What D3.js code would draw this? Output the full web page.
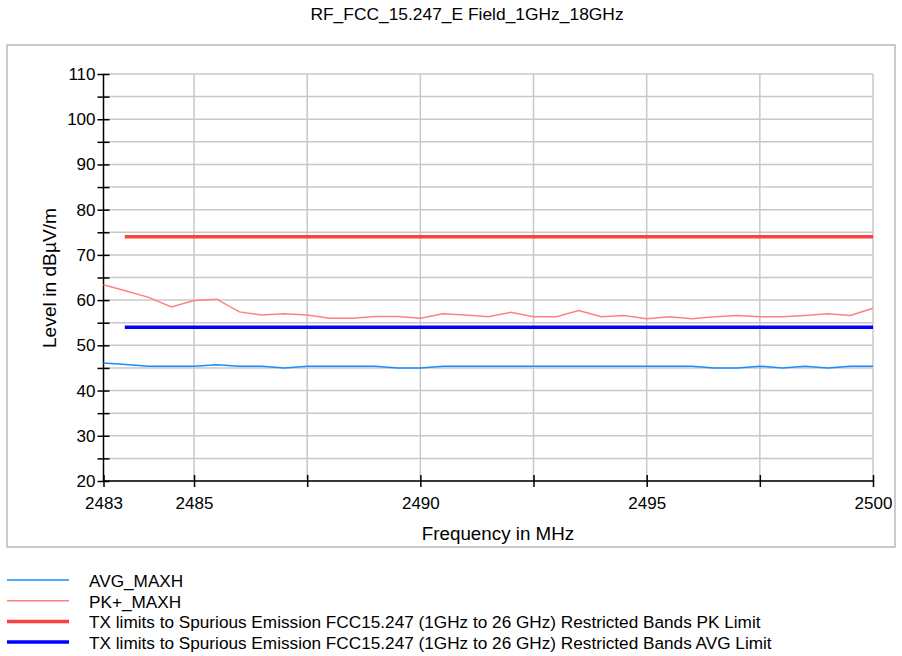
<!DOCTYPE html>
<html><head><meta charset="utf-8">
<script src="https://cdn.jsdelivr.net/npm/d3@7"></script>
<style>body{margin:0;background:#fff}svg{display:block}text{font-family:"Liberation Sans",Arial,sans-serif;fill:#000}</style>
</head><body><svg id="c" width="902" height="656"></svg>
<script>
const title = "RF_FCC_15.247_E Field_1GHz_18GHz";
const xLabel = "Frequency in MHz";
const yLabel = "Level in dBµV/m";
const freqs = [2483,2483.5,2484,2484.5,2485,2485.5,2486,2486.5,2487,2487.5,2488,2488.5,2489,2489.5,2490,2490.5,2491,2491.5,2492,2492.5,2493,2493.5,2494,2494.5,2495,2495.5,2496,2496.5,2497,2497.5,2498,2498.5,2499,2499.5,2500];
const pkMaxh = [63.4,62.0,60.6,58.5,59.9,60.2,57.4,56.7,57.0,56.7,56.0,56.0,56.4,56.4,56.0,57.0,56.7,56.3,57.3,56.3,56.3,57.7,56.3,56.6,55.9,56.3,55.9,56.3,56.6,56.3,56.3,56.6,57.0,56.6,58.2];
const avgMaxh = [46.1,45.75,45.4,45.4,45.4,45.7,45.4,45.4,45.0,45.4,45.4,45.4,45.4,45.0,45.0,45.4,45.4,45.4,45.4,45.4,45.4,45.4,45.4,45.4,45.4,45.4,45.4,45.0,45.0,45.4,45.0,45.4,45.0,45.4,45.4];
const limitFreqs = [2483.47, 2500];
const pkLimit = [74, 74];
const avgLimit = [54, 54];
const xTickValues = [2483,2485,2487.5,2490,2492.5,2495,2497.5,2500];
const xTickLabels = ["2483","2485","","2490","","2495","","2500"];
const yMajor = [20,30,40,50,60,70,80,90,100,110];
const yMinor = [25,35,45,55,65,75,85,95,105];
const legendNames = ["AVG_MAXH","PK+_MAXH","TX limits to Spurious Emission FCC15.247 (1GHz to 26 GHz) Restricted Bands PK Limit","TX limits to Spurious Emission FCC15.247 (1GHz to 26 GHz) Restricted Bands AVG Limit"];

const colors = {avg:"#1a8cff", pk:"#ff8080", pkLim:"#ff4040", avgLim:"#0000ff"};
const svg = d3.select("#c");
const L=103.5, R=873, T=74, B=481;
const x = d3.scaleLinear().domain([2483,2500]).range([L,R]);
const y = d3.scaleLinear().domain([20,110]).range([B,T]);

// frame
svg.append("rect").attr("x",7).attr("y",45).attr("width",888).attr("height",502)
  .attr("fill","none").attr("stroke","#b9b9b9").attr("stroke-width",1.5);
svg.append("text").attr("x",467).attr("y",20).attr("text-anchor","middle").attr("font-size",17.4).text(title);

// grid
const grid = svg.append("g").attr("stroke","#c8c8c8").attr("stroke-width",1.5);
yMajor.concat(yMinor).forEach(v=>grid.append("line").attr("x1",L).attr("x2",R).attr("y1",y(v)).attr("y2",y(v)));
xTickValues.slice(1).forEach(v=>grid.append("line").attr("x1",x(v)).attr("x2",x(v)).attr("y1",T).attr("y2",B));

// axes
const yAxis = d3.axisLeft(y).tickValues(yMajor).tickSize(6).tickPadding(2).tickFormat(d3.format("d"));
const gy = svg.append("g").attr("transform",`translate(${L},0)`).call(yAxis);
gy.selectAll(".tick line").attr("x2",-6).attr("x1",6).attr("stroke","#000").attr("stroke-width",1.5);
gy.select(".domain").attr("stroke","#000").attr("stroke-width",1.5).attr("d",`M0,${T}V${B}`);
gy.selectAll(".tick text").attr("font-size",17).attr("font-family","Liberation Sans, Arial, sans-serif").attr("x",-8);
const gyMinor = svg.append("g").attr("transform",`translate(${L},0)`).call(d3.axisLeft(y).tickValues(yMinor).tickSize(6).tickFormat(""));
gyMinor.select(".domain").remove();
gyMinor.selectAll(".tick line").attr("x1",6).attr("x2",-6).attr("stroke","#000").attr("stroke-width",1.5);

const xAxis = d3.axisBottom(x).tickValues(xTickValues).tickSize(6).tickPadding(10).tickFormat((d,i)=>xTickLabels[i]);
const gx = svg.append("g").attr("transform",`translate(0,${B})`).call(xAxis);
gx.select(".domain").attr("stroke","#000").attr("stroke-width",1.5).attr("d",`M${L},0H${R}`);
gx.selectAll(".tick line").attr("y1",-6).attr("y2",6).attr("stroke","#000").attr("stroke-width",1.5);
gx.selectAll(".tick text").attr("font-size",17).attr("font-family","Liberation Sans, Arial, sans-serif");

svg.append("text").attr("x",498).attr("y",540).attr("text-anchor","middle").attr("font-size",18.8).text(xLabel);
svg.append("text").attr("transform",`translate(56,278) rotate(-90)`).attr("text-anchor","middle").attr("font-size",19.2).text(yLabel);

// data
const line = d3.line().x(d=>x(d[0])).y(d=>y(d[1]));
const plot = svg.append("g");
plot.append("path").datum(limitFreqs.map((f,i)=>[f,pkLimit[i]])).attr("d",line).attr("fill","none").attr("stroke",colors.pkLim).attr("stroke-width",3.5);
plot.append("path").datum(limitFreqs.map((f,i)=>[f,avgLimit[i]])).attr("d",line).attr("fill","none").attr("stroke",colors.avgLim).attr("stroke-width",3.5);
plot.append("path").datum(freqs.map((f,i)=>[f,pkMaxh[i]])).attr("d",line).attr("fill","none").attr("stroke",colors.pk).attr("stroke-width",1.5);
plot.append("path").datum(freqs.map((f,i)=>[f,avgMaxh[i]])).attr("d",line).attr("fill","none").attr("stroke",colors.avg).attr("stroke-width",1.5);

// legend
const legColors = [colors.avg, colors.pk, colors.pkLim, colors.avgLim];
const legWidths = [1.5,1.5,3.5,3.5];
legendNames.forEach((n,i)=>{
  const ly = 580 + i*20.7;
  svg.append("line").attr("x1",7).attr("x2",69).attr("y1",ly).attr("y2",ly).attr("stroke",legColors[i]).attr("stroke-width",legWidths[i]);
  svg.append("text").attr("x",89).attr("y",ly+7).attr("font-size",17.2).text(n);
});
</script></body></html>
